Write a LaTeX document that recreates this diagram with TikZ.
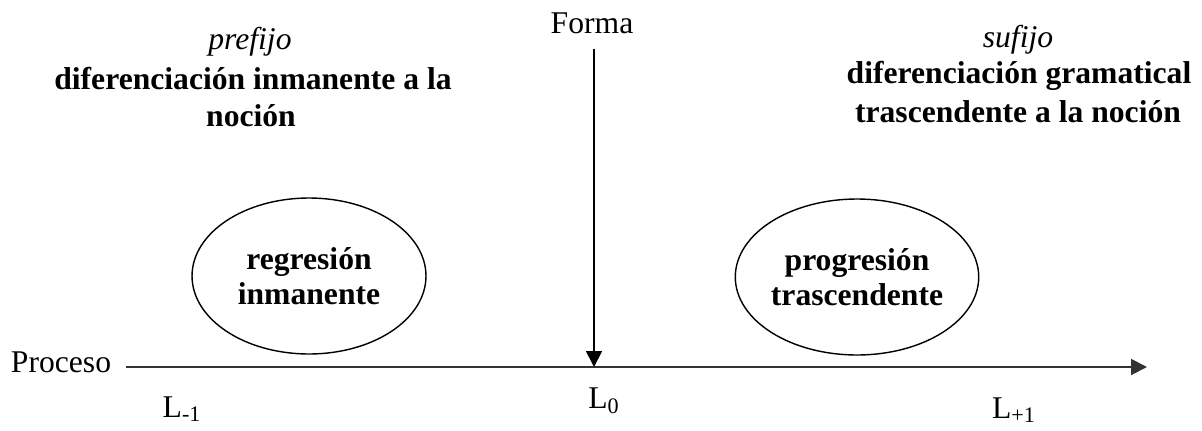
\documentclass[tikz,border=0pt]{standalone}
\usepackage{fontspec}
\setmainfont{Liberation Serif}
\usepackage{tikz}
\usetikzlibrary{shapes,arrows.meta,positioning,calc}

\begin{document}
\begin{tikzpicture}[x=0.02cm, y=-0.02cm,
  lbl/.style={inner sep=0pt, font=\fontsize{18}{22}\selectfont},
  hdr/.style={inner sep=0pt, font=\fontsize{18}{22}\selectfont\itshape},
  note/.style={inner sep=0pt, align=center, font=\fontsize{18}{20}\selectfont\bfseries},
  zone/.style={note, draw, ellipse, line width=0.8pt, minimum width=4.68cm, minimum height=3.12cm},
  axis/.style={line width=1.1pt, draw=black!80, -{Triangle[length=9pt,width=9pt]}}
]
\useasboundingbox (0,0) rectangle (1202,430);

% left side: prefix
\node[hdr] (PF) at (250,42) {prefijo};
\node[note] (PF1) at (253,79) {diferenciación inmanente a la};
\node[note] (PF2) at (251,116) {noción};

% right side: suffix
\node[hdr] (SF) at (1018,40) {sufijo};
\node[note] (SF1) at (1019,76) {diferenciación gramatical};
\node[note] (SF2) at (1018,112) {trascendente a la noción};

% ellipses
\node[zone] (RG) at (309,276) {regresión\\inmanente};
\node[zone] (PG) at (857,277) {progresión\\trascendente};

% axes
\node[lbl] (FO) at (592,23) {Forma};
\node[lbl] (PR) at (61,362) {Proceso};
\coordinate (A0) at (126,367);
\coordinate (A1) at (1147,367);
\coordinate (L0) at (594,367);
\draw[axis] (A0) -- (A1);
\draw[axis, draw=black, line width=1pt] (FO.south -| L0) ++(0,15) -- (L0);

% levels
\node[lbl] (LM) at (182,409) {L\textsubscript{-1}};
\node[lbl] (LZ) at (604,401) {L\textsubscript{0}};
\node[lbl] (LP) at (1014,410) {L\textsubscript{+1}};
\end{tikzpicture}
\end{document}
